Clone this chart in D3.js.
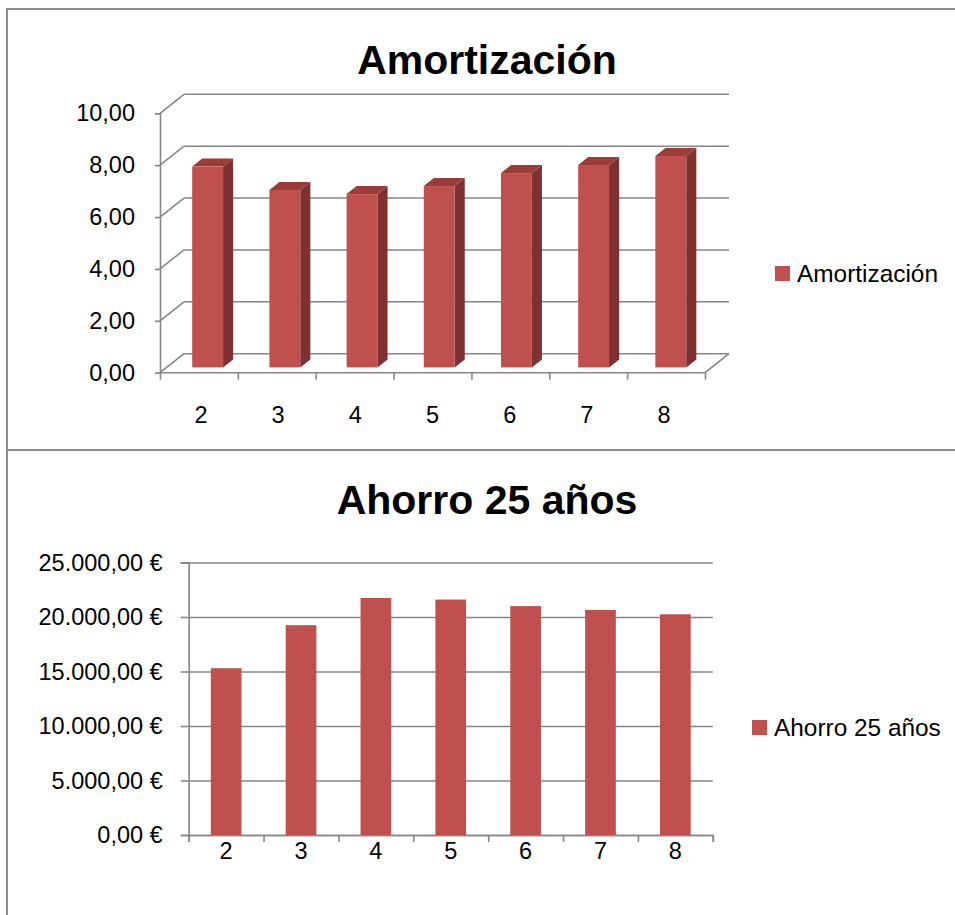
<!DOCTYPE html>
<html>
<head>
<meta charset="utf-8">
<script src="https://cdn.jsdelivr.net/npm/d3@7"></script>
<style>
  html, body { margin: 0; padding: 0; background: #ffffff; }
  svg { display: block; font-family: "Liberation Sans", Arial, sans-serif; }
</style>
</head>
<body>
<svg id="chart" width="955" height="915"></svg>
<script>
// ---------- data ----------
const categories = ["2", "3", "4", "5", "6", "7", "8"];
const amortizacion = [7.74, 6.84, 6.68, 6.99, 7.49, 7.80, 8.15];
const ahorro25 = [15300, 19250, 21750, 21600, 21000, 20650, 20250];
const amortTicks = [0, 2, 4, 6, 8, 10];
const ahorroTicks = [0, 5000, 10000, 15000, 20000, 25000];
const title1 = "Amortización";
const title2 = "Ahorro 25 años";
const legend1 = "Amortización";
const legend2 = "Ahorro 25 años";

// ---------- styles ----------
const barFront = "#c0504d", barSide = "#7e3130", barTop = "#9c3c39";
const gridColor = "#878787", frameColor = "#8c8c8c";
const axisFont = "23.5px", legendFont = "24.4px", titleFont = "41px";

const es = d3.formatLocale({decimal: ",", thousands: ".", grouping: [3], currency: ["", " €"]});
const fmtNum = es.format(",.2f");
const fmtEur = es.format("$,.2f");

const svg = d3.select("#chart");

// frames
svg.append("rect").attr("x", 7).attr("y", 9).attr("width", 1000).attr("height", 441)
  .attr("fill", "none").attr("stroke", frameColor).attr("stroke-width", 2);
svg.append("rect").attr("x", 7).attr("y", 450).attr("width", 1000).attr("height", 520)
  .attr("fill", "none").attr("stroke", frameColor).attr("stroke-width", 2);

// ================= Chart 1 (3D columns) =================
{
  const g = svg.append("g");
  const x0 = 160, x1 = 705;
  const dx = 24, dy = -19;               // depth offset of back wall
  const y = d3.scaleLinear().domain([0, 10]).range([372.7, 113.3]);
  const x = d3.scaleBand().domain(categories).range([x0, x1]).paddingInner(0.6).paddingOuter(0.33);
  const xb = d3.scaleLinear().domain([0, categories.length]).range([x0, x1]);
  const f1 = 0.28, f2 = 0.70;            // depth fractions of bar front/back

  // back wall gridlines + side diagonals
  amortTicks.forEach(t => {
    g.append("line").attr("x1", x0 + dx).attr("x2", x1 + dx)
      .attr("y1", y(t) + dy).attr("y2", y(t) + dy)
      .attr("stroke", gridColor).attr("stroke-width", 1.6);
    g.append("line").attr("x1", x0).attr("x2", x0 + dx)
      .attr("y1", y(t)).attr("y2", y(t) + dy)
      .attr("stroke", gridColor).attr("stroke-width", 1.6);
  });
  // floor
  g.append("path")
    .attr("d", `M${x0},${y(0)}L${x1},${y(0)}L${x1 + dx},${y(0) + dy}`)
    .attr("fill", "none").attr("stroke", gridColor).attr("stroke-width", 1.6);

  // y axis (front)
  const ya = g.append("g").attr("transform", `translate(${x0},0)`)
    .call(d3.axisLeft(y).tickValues(amortTicks).tickSize(5).tickPadding(20).tickFormat(fmtNum));
  ya.selectAll("path, line").attr("stroke", gridColor).attr("stroke-width", 1.6);
  ya.selectAll("text").attr("font-size", axisFont).attr("fill", "#000").attr("font-family", null);

  // x boundary ticks
  const xt = g.append("g").attr("transform", `translate(0,${y(0)})`)
    .call(d3.axisBottom(xb).tickValues(d3.range(categories.length + 1)).tickSize(7).tickFormat(""));
  xt.select("path").remove();
  xt.selectAll("line").attr("stroke", gridColor).attr("stroke-width", 1.6);
  // x labels
  const xl = g.append("g").attr("transform", `translate(0,${y(0)})`)
    .call(d3.axisBottom(x).tickSize(0).tickPadding(34));
  xl.select("path").remove();
  xl.selectAll("text").attr("font-size", axisFont).attr("fill", "#000").attr("font-family", null);

  // bars
  const bw = x.bandwidth();
  categories.forEach((c, i) => {
    const v = amortizacion[i];
    const fx = x(c) + f1 * dx, fyb = y(0) + f1 * dy, fyt = y(v) + f1 * dy;
    const ox = (f2 - f1) * dx, oy = (f2 - f1) * dy;
    // side
    g.append("path")
      .attr("d", `M${fx + bw},${fyt}L${fx + bw + ox},${fyt + oy}L${fx + bw + ox},${fyb + oy}L${fx + bw},${fyb}Z`)
      .attr("fill", barSide);
    // top
    g.append("path")
      .attr("d", `M${fx},${fyt}L${fx + ox},${fyt + oy}L${fx + bw + ox},${fyt + oy}L${fx + bw},${fyt}Z`)
      .attr("fill", barTop);
    // front
    g.append("rect").attr("x", fx).attr("y", fyt).attr("width", bw).attr("height", fyb - fyt)
      .attr("fill", barFront);
  });

  // title
  g.append("text").attr("x", 487).attr("y", 74).attr("text-anchor", "middle")
    .attr("font-size", titleFont).attr("font-weight", "bold").text(title1);

  // legend
  g.append("rect").attr("x", 775).attr("y", 266).attr("width", 15).attr("height", 15).attr("fill", barFront);
  g.append("text").attr("x", 797).attr("y", 282).attr("font-size", legendFont).text(legend1);
}

// ================= Chart 2 (flat columns) =================
{
  const g = svg.append("g");
  const x0 = 188.7, x1 = 712.8;
  const y = d3.scaleLinear().domain([0, 25000]).range([835, 562.5]);
  const x = d3.scaleBand().domain(categories).range([x0, x1]).paddingInner(0.59).paddingOuter(0.295);
  const xb = d3.scaleLinear().domain([0, categories.length]).range([x0, x1]);

  // gridlines
  const gr = g.append("g").attr("transform", `translate(${x0},0)`)
    .call(d3.axisLeft(y).tickValues(ahorroTicks).tickSize(-(x1 - x0)).tickFormat(""));
  gr.select("path").remove();
  gr.selectAll("line").attr("stroke", gridColor).attr("stroke-width", 1.6);

  // y axis
  const ya = g.append("g").attr("transform", `translate(${x0},0)`)
    .call(d3.axisLeft(y).tickValues(ahorroTicks).tickSize(8).tickPadding(18).tickFormat(fmtEur));
  ya.selectAll("path, line").attr("stroke", gridColor).attr("stroke-width", 1.6);
  ya.selectAll("text").attr("font-size", axisFont).attr("fill", "#000").attr("font-family", null);

  // x boundary ticks
  const xt = g.append("g").attr("transform", `translate(0,${y(0)})`)
    .call(d3.axisBottom(xb).tickValues(d3.range(categories.length + 1)).tickSize(7).tickFormat(""));
  xt.select("path").attr("stroke", gridColor).attr("stroke-width", 1.6);
  xt.selectAll("line").attr("stroke", gridColor).attr("stroke-width", 1.6);
  const xl = g.append("g").attr("transform", `translate(0,${y(0)})`)
    .call(d3.axisBottom(x).tickSize(0).tickPadding(7));
  xl.select("path").remove();
  xl.selectAll("text").attr("font-size", axisFont).attr("fill", "#000").attr("font-family", null);

  // bars
  g.selectAll("rect.bar").data(ahorro25).join("rect").attr("class", "bar")
    .attr("x", (d, i) => x(categories[i])).attr("y", d => y(d))
    .attr("width", x.bandwidth()).attr("height", d => y(0) - y(d))
    .attr("fill", barFront);

  // title
  g.append("text").attr("x", 487).attr("y", 514).attr("text-anchor", "middle")
    .attr("font-size", titleFont).attr("font-weight", "bold").text(title2);

  // legend
  g.append("rect").attr("x", 752).attr("y", 720).attr("width", 15).attr("height", 15).attr("fill", barFront);
  g.append("text").attr("x", 774).attr("y", 736).attr("font-size", legendFont).text(legend2);
}
</script>
</body>
</html>
